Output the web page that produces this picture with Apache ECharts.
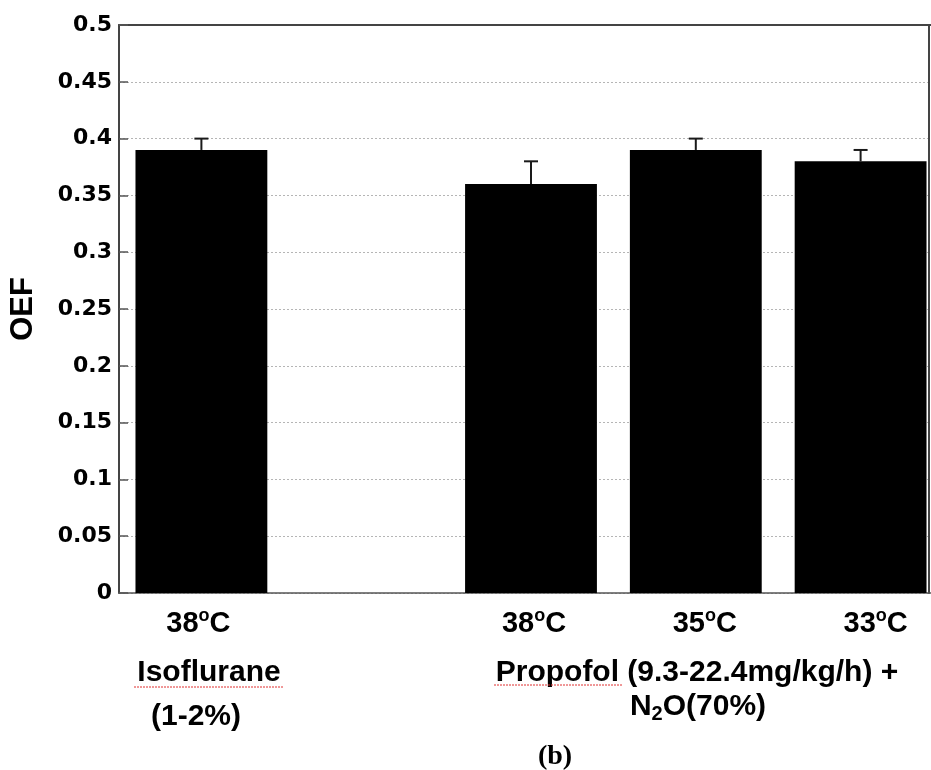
<!DOCTYPE html>
<html>
<head>
<meta charset="utf-8">
<script src="https://cdn.jsdelivr.net/npm/echarts@6/dist/echarts.min.js"></script>
<style>
html,body{margin:0;padding:0;background:#fff;overflow:hidden;width:931px;height:770px;}
#chart{width:943px;height:770px;}
</style>
</head>
<body>
<div id="chart"></div>
<script>
// ---- data ----
var temps = ['38', '', '38', '35', '33'];          // temperature (°C) category labels
var oef = [0.39, null, 0.36, 0.39, 0.38];          // mean OEF
var oefErr = [0.01, null, 0.02, 0.01, 0.01];       // upper error
var yTicks = ['0','0.05','0.1','0.15','0.2','0.25','0.3','0.35','0.4','0.45','0.5'];
var groupIso = ['Isoflurane', '(1-2%)'];
var groupProp = ['Propofol (9.3-22.4mg/kg/h) +', 'N2O(70%)'];
var panelLabel = '(b)';

var errData = [];
for (var i = 0; i < oef.length; i++) {
  if (oef[i] != null) errData.push([i, oef[i], oefErr[i]]);
}

var chart = echarts.init(document.getElementById('chart'));
// [left, right] padding to nudge temperature labels like the reference
var labelPad = [[0, 6], [0, 0], [6, 0], [18, 0], [30, 0]];

var option = {
  backgroundColor: '#fff',
  animation: false,
  grid: {left: 117, top: 25, right: 0, bottom: 177, containLabel: false},
  xAxis: [{
    type: 'category',
    data: temps,
    boundaryGap: true,
    axisLine: {show: true, onZero: false, lineStyle: {color: '#555', width: 1.5}},
    axisTick: {show: false},
    axisLabel: {
      margin: 14,
      interval: 0,
      formatter: function (v, idx) {
        if (!v) return '';
        return '{n' + idx + '|' + v + '}{s|o}{c' + idx + '|C}';
      },
      rich: (function () {
        var r = {
          s: {fontFamily: 'Liberation Sans, Arial', fontWeight: 'bold', fontSize: 18, color: '#000', verticalAlign: 'top', lineHeight: 20}
        };
        for (var k = 0; k < 5; k++) {
          r['n' + k] = {fontFamily: 'Liberation Sans, Arial', fontWeight: 'bold', fontSize: 29, color: '#000', lineHeight: 34, padding: [0, 0, 0, labelPad[k][0]]};
          r['c' + k] = {fontFamily: 'Liberation Sans, Arial', fontWeight: 'bold', fontSize: 29, color: '#000', lineHeight: 34, padding: [0, labelPad[k][1], 0, 0]};
        }
        return r;
      })()
    },
    splitLine: {show: false}
  }, {
    type: 'category',
    position: 'top',
    data: temps,
    axisLine: {show: true, onZero: false, lineStyle: {color: '#444', width: 2}},
    axisTick: {show: false},
    axisLabel: {show: false}
  }],
  yAxis: [{
    type: 'value',
    min: 0, max: 0.5, interval: 0.05,
    name: 'OEF',
    nameLocation: 'middle',
    nameGap: 80,
    nameRotate: 90,
    nameTextStyle: {fontFamily: 'Liberation Sans, Arial', fontWeight: 'bold', fontSize: 31, color: '#000'},
    axisLine: {show: true, onZero: false, lineStyle: {color: '#444', width: 2}},
    axisTick: {show: true, inside: true, length: 9, lineStyle: {color: '#555', width: 1.5}},
    axisLabel: {
      margin: 7,
      fontFamily: 'DejaVu Sans, sans-serif', fontWeight: 'bold', fontSize: 22, color: '#000',
      formatter: function (v) {
        var idx = Math.round(v / 0.05);
        return yTicks[idx];
      }
    },
    splitLine: {show: true, lineStyle: {color: '#b5b5b5', width: 1, type: [2, 2]}}
  }, {
    type: 'value',
    position: 'right',
    offset: -14,
    min: 0, max: 0.5, interval: 0.05,
    axisLine: {show: true, onZero: false, lineStyle: {color: '#444', width: 2}},
    axisTick: {show: false},
    axisLabel: {show: false},
    splitLine: {show: false}
  }],
  series: [{
    type: 'bar',
    data: oef,
    barCategoryGap: '20%',
    itemStyle: {color: '#000'},
    z: 2
  }, {
    type: 'custom',
    data: errData,
    z: 3,
    renderItem: function (params, api) {
      var x = api.value(0), y = api.value(1), e = api.value(2);
      var p0 = api.coord([x, y]);
      var p1 = api.coord([x, y + e]);
      var st = {stroke: '#1a1a1a', lineWidth: 2};
      return {
        type: 'group',
        children: [
          {type: 'line', shape: {x1: p0[0], y1: p0[1], x2: p1[0], y2: p1[1]}, style: st},
          {type: 'line', shape: {x1: p1[0] - 7, y1: p1[1], x2: p1[0] + 7, y2: p1[1]}, style: st}
        ]
      };
    }
  }],
  graphic: [
    {type: 'text', x: 209, y: 673, style: {text: groupIso[0], align: 'center', verticalAlign: 'middle', font: 'bold 30px "Liberation Sans", Arial', fill: '#000'}},
    {type: 'text', x: 196, y: 717, style: {text: groupIso[1], align: 'center', verticalAlign: 'middle', font: 'bold 30px "Liberation Sans", Arial', fill: '#000'}},
    {type: 'text', x: 697, y: 673, style: {text: groupProp[0], align: 'center', verticalAlign: 'middle', font: 'bold 30px "Liberation Sans", Arial', fill: '#000'}},
    {type: 'text', x: 698, y: 707, style: {
      text: '{a|N}{s|2}{a|O(70%)}', align: 'center', verticalAlign: 'middle',
      rich: {
        a: {fontFamily: 'Liberation Sans, Arial', fontWeight: 'bold', fontSize: 30, fill: '#000', lineHeight: 34},
        s: {fontFamily: 'Liberation Sans, Arial', fontWeight: 'bold', fontSize: 20, fill: '#000', verticalAlign: 'bottom', lineHeight: 24}
      }
    }},
    {type: 'text', x: 555, y: 757, style: {text: panelLabel, align: 'center', verticalAlign: 'middle', font: 'bold 28px "Liberation Serif", "Times New Roman", serif', fill: '#000'}},
    {type: 'line', shape: {x1: 134, y1: 687, x2: 283, y2: 687}, style: {stroke: '#e03030', lineWidth: 1, lineDash: [2, 1]}},
    {type: 'line', shape: {x1: 494, y1: 685, x2: 623, y2: 685}, style: {stroke: '#e03030', lineWidth: 1, lineDash: [2, 1]}}
  ]
};
chart.setOption(option);
</script>
</body>
</html>
